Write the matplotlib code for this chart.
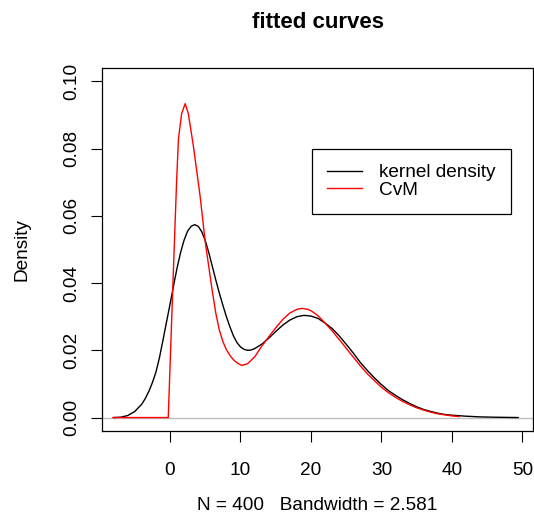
import matplotlib.pyplot as plt
import matplotlib as mpl

mpl.rcParams.update({
    'font.family': ['Liberation Sans', 'DejaVu Sans'],
    'font.size': 13.7,
    'axes.linewidth': 0.9,
    'xtick.direction': 'out',
    'ytick.direction': 'out',
    'xtick.major.size': 8,
    'ytick.major.size': 8,
    'xtick.major.width': 0.8,
    'ytick.major.width': 0.8,
})

# kernel density estimate
kde_x = [-8, -7, -6, -5, -4, -3.5, -3, -2.5, -2, -1.5, -1, -0.5, 0, 0.5, 1, 1.5, 2, 2.5, 3,
         3.5, 4, 4.5, 5, 5.5, 6, 6.5, 7, 7.5, 8, 8.5, 9, 9.5, 10, 10.5, 11, 11.5, 12, 13,
         14, 15, 16, 17, 18, 19, 20, 21, 22, 23, 24, 25, 26, 27, 28, 29, 30, 31, 32, 33,
         34, 35, 36, 37, 38, 39, 40, 42, 44, 46, 49.4]
kde_y = [0.0000, 0.0001, 0.0006, 0.0018, 0.0040, 0.0057, 0.0078, 0.0104, 0.0135, 0.0178,
         0.0230, 0.0284, 0.0337, 0.0392, 0.0445, 0.0491, 0.0528, 0.0555, 0.0569, 0.0574,
         0.0569, 0.0553, 0.0527, 0.0491, 0.0450, 0.0409, 0.0370, 0.0334, 0.0300, 0.0270,
         0.0243, 0.0223, 0.0210, 0.0203, 0.0200, 0.0201, 0.0205, 0.0218, 0.0236, 0.0256,
         0.0275, 0.0290, 0.0300, 0.0304, 0.0302, 0.0295, 0.0281, 0.0265, 0.0243, 0.0218,
         0.0192, 0.0164, 0.0140, 0.0118, 0.0098, 0.0080, 0.0066, 0.0053, 0.0042, 0.0032,
         0.0024, 0.0018, 0.0013, 0.0009, 0.0007, 0.0004, 0.0002, 0.0001, 0.0000]

# fitted CvM curve
cvm_x = [-8.1, -0.25, 0.5, 0.95, 1.2, 1.65, 2.15, 2.6, 3.3, 4.25, 5.0, 5.9, 6.5, 7.0, 7.5,
         8.0, 8.5, 9, 9.5, 10.17, 11, 12.06, 13, 14, 15, 16, 17, 18, 18.7, 19.5, 20, 21,
         22, 23, 24, 25, 26, 27, 28, 29, 30, 31, 32, 33, 34, 35, 36, 37, 38, 39, 40, 41]
cvm_y = [0.0, 0.0, 0.0450, 0.0711, 0.0830, 0.0904, 0.0934, 0.0904, 0.0810, 0.0662, 0.0522,
         0.0390, 0.0310, 0.0260, 0.0226, 0.0202, 0.0185, 0.0172, 0.0163, 0.0155, 0.0160,
         0.0182, 0.0212, 0.0240, 0.0267, 0.0292, 0.0311, 0.0322, 0.0325, 0.0322, 0.0318,
         0.0303, 0.0281, 0.0258, 0.0232, 0.0206, 0.0180, 0.0154, 0.0130, 0.0110, 0.0090,
         0.0074, 0.0060, 0.0048, 0.0038, 0.0029, 0.0022, 0.0016, 0.0011, 0.0008, 0.0005,
         0.0003]

x_ticks = [0, 10, 20, 30, 40, 50]
y_ticks = [0.00, 0.02, 0.04, 0.06, 0.08, 0.10]
y_tick_labels = ['0.00', '0.02', '0.04', '0.06', '0.08', '0.10']

fig = plt.figure(figsize=(5.34, 5.21), dpi=100)
ax = fig.add_axes([102 / 534, 90 / 521, 431 / 534, 363 / 521])

ax.axhline(0, color='#bebebe', linewidth=1.0, zorder=1)
ax.plot(kde_x, kde_y, color='black', linewidth=1.0, label='kernel density', zorder=2)
ax.plot(cvm_x, cvm_y, color='red', linewidth=1.0, label='CvM', zorder=3)

ax.set_xlim(-9.65, 51.5)
ax.set_ylim(-0.004, 0.104)
ax.set_xticks(x_ticks)
ax.set_yticks(y_ticks)
ax.set_yticklabels(y_tick_labels, rotation=90, va='center')
ax.tick_params(axis='x', pad=14)
ax.tick_params(axis='y', pad=8)

ax.set_title('fitted curves', fontsize=16, fontweight='bold', pad=29)
ax.set_xlabel('N = 400   Bandwidth = 2.581', va='center')
ax.xaxis.set_label_coords(0.5, -0.204)
ax.set_ylabel('Density', va='center')
ax.yaxis.set_label_coords(-0.1856, 0.5)

leg = ax.legend(loc='upper left', bbox_to_anchor=(0.4865, 0.777), borderaxespad=0,
                handlelength=1.85, handletextpad=0.9, labelspacing=0.0,
                borderpad=0.8, fancybox=False, framealpha=1, edgecolor='black')
leg.get_frame().set_linewidth(0.9)

plt.savefig('out.png', dpi=100)
plt.close()
